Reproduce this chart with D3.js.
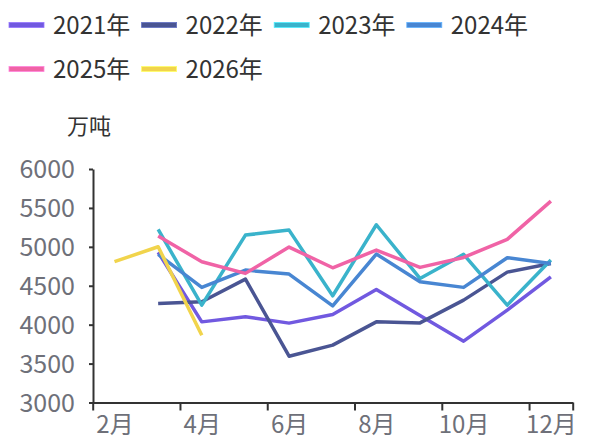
<!DOCTYPE html>
<html><head><meta charset="utf-8">
<script src="https://cdn.jsdelivr.net/npm/d3@7"></script>
<style>body{margin:0;background:#fff}svg{display:block}text{font-family:"Noto Sans CJK SC","Noto Sans",sans-serif}</style>
</head><body><svg id="c" width="595" height="439"></svg>
<script>
const months = ["2月","3月","4月","5月","6月","7月","8月","9月","10月","11月","12月"];
const seriesNames = ["2021年","2022年","2023年","2024年","2025年","2026年"];
const colors = ["#7159e0","#4a5593","#3ab3cb","#4886d2","#f063a6","#f1d44c"];
// values by month, Feb..Dec (null = no data)
const s2021 = [null,4930,4036,4101,4020,4131,4453,4119,3788,4187,4615];
const s2022 = [null,4273,4294,4585,3595,3737,4036,4023,4315,4675,4787];
const s2023 = [null,5224,4251,5151,5215,4371,5284,4594,4903,4251,4830];
const s2024 = [null,4903,4479,4701,4650,4242,4907,4551,4479,4860,4787];
const s2025 = [null,5139,4809,4659,4997,4731,4958,4736,4864,5096,5588];
const s2026 = [4809,5001,3865,null,null,null,null,null,null,null,null];
const yTicks = [3000,3500,4000,4500,5000,5500,6000];
const unitLabel = "万吨";
const allSeries = [s2021,s2022,s2023,s2024,s2025,s2026];

const svg = d3.select("#c");
const x = d3.scaleLinear().domain([0, months.length]).range([92.7, 572.7]);
const y = d3.scaleLinear().domain([3000, 6000]).range([402.5, 169]);

// y axis
const ya = svg.append("g").attr("transform","translate(93,0)")
  .call(d3.axisLeft(y).tickValues(yTicks).tickFormat(d3.format("d")).tickSize(4).tickSizeOuter(0).tickPadding(14));
ya.select(".domain").attr("stroke","#333").attr("stroke-width",2);
ya.selectAll(".tick line").attr("stroke","#333").attr("stroke-width",2);
ya.selectAll(".tick text").attr("fill","#6e7079").style("font-size","25px").attr("dy","0.35em");

// x axis
const tickIdx = [0,2,4,6,8,10,11];
const xa = svg.append("g").attr("transform","translate(0,402.5)")
  .call(d3.axisBottom(x).tickValues(tickIdx).tickSize(8).tickSizeOuter(0).tickPadding(5)
    .tickFormat(d => d < months.length ? months[d] : ""));
xa.select(".domain").attr("stroke","#333").attr("stroke-width",2);
xa.selectAll(".tick line").attr("stroke","#333").attr("stroke-width",2);
const half = (x(1) - x(0)) / 2;
xa.selectAll(".tick text").attr("fill","#6e7079").style("font-size","24px").attr("x", half).attr("dy","0.72em");

// unit label
svg.append("text").attr("x",67).attr("y",134).attr("fill","#333").style("font-size","22px").text(unitLabel);

// lines
const line = d3.line().defined(d => d.v != null).x(d => x(d.i + 0.5)).y(d => y(d.v));
allSeries.forEach((s, k) => {
  svg.append("path").datum(s.map((v,i)=>({i,v})))
    .attr("d", line).attr("fill","none").attr("stroke",colors[k])
    .attr("stroke-width",3.5).attr("stroke-linejoin","round");
});

// legend
const leg = svg.append("g");
seriesNames.forEach((n,k) => {
  const col = k % 4, row = Math.floor(k / 4);
  const gx = 9 + col * 132.6, gy = 25 + row * 44;
  leg.append("rect").attr("x",gx).attr("y",gy-2.5).attr("width",35).attr("height",5)
    .attr("fill",colors[k]).attr("stroke",d3.color(colors[k]).brighter(0.8)).attr("stroke-width",0.8);
  leg.append("text").attr("x",gx+44).attr("y",gy).attr("dy","0.36em").attr("fill","#333")
    .style("font-size","24px").text(n);
});
</script></body></html>
